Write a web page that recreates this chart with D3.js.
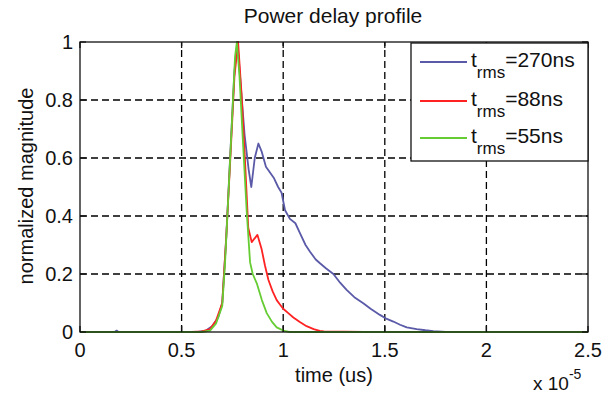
<!DOCTYPE html>
<html>
<head>
<meta charset="utf-8">
<script src="https://cdn.jsdelivr.net/npm/d3@7"></script>
<style>
  body { margin: 0; background: #fff; }
  svg { font-family: "Liberation Sans", Arial, sans-serif; }
</style>
</head>
<body>
<div class="chart-container"></div>
<script>
// time values are in units of 1e-5 s
const xTicks = [0, 0.5, 1, 1.5, 2, 2.5];
const yTicks = [0, 0.2, 0.4, 0.6, 0.8, 1];

const timeA = [0, 0.17, 0.18, 0.19, 0.58, 0.62, 0.65, 0.68, 0.70, 0.72, 0.74, 0.76, 0.775, 0.79, 0.81, 0.83, 0.843, 0.86, 0.878, 0.895, 0.915, 0.935, 0.955, 0.975, 0.992, 1.009, 1.033, 1.06, 1.083, 1.11, 1.132, 1.16, 1.181, 1.21, 1.247, 1.28, 1.312, 1.35, 1.394, 1.43, 1.476, 1.51, 1.542, 1.575, 1.608, 1.657, 1.7, 1.739, 1.8, 2.5];
const magA  = [0, 0, 0.005, 0, 0, 0.005, 0.02, 0.05, 0.10, 0.33, 0.62, 0.90, 1.0, 0.86, 0.68, 0.56, 0.50, 0.60, 0.65, 0.62, 0.57, 0.55, 0.53, 0.50, 0.48, 0.42, 0.39, 0.375, 0.34, 0.30, 0.277, 0.25, 0.237, 0.22, 0.20, 0.17, 0.145, 0.12, 0.099, 0.08, 0.059, 0.045, 0.036, 0.025, 0.016, 0.01, 0.006, 0.003, 0, 0];

const timeB = [0, 0.55, 0.6, 0.64, 0.67, 0.70, 0.72, 0.74, 0.76, 0.778, 0.795, 0.81, 0.828, 0.845, 0.873, 0.894, 0.91, 0.927, 0.948, 0.968, 0.984, 1.0, 1.025, 1.05, 1.08, 1.115, 1.15, 1.18, 1.2, 1.4, 2.5];
const magB  = [0, 0, 0.002, 0.01, 0.04, 0.10, 0.33, 0.60, 0.88, 1.0, 0.82, 0.62, 0.36, 0.31, 0.335, 0.285, 0.23, 0.18, 0.14, 0.11, 0.095, 0.08, 0.065, 0.05, 0.035, 0.02, 0.01, 0.004, 0.002, 0, 0];

const timeC = [0, 0.6, 0.64, 0.67, 0.70, 0.714, 0.73, 0.746, 0.763, 0.772, 0.785, 0.80, 0.82, 0.837, 0.85, 0.87, 0.895, 0.919, 0.945, 0.968, 1.0, 1.03, 2.5];
const magC  = [0, 0, 0.005, 0.03, 0.09, 0.24, 0.47, 0.70, 0.95, 1.0, 0.88, 0.68, 0.42, 0.24, 0.20, 0.168, 0.11, 0.065, 0.035, 0.016, 0.005, 0, 0];

const seriesLabels = ['=270ns', '=88ns', '=55ns'];
const seriesColors = ['#5a5aa8', '#ff2222', '#66cc33'];

const width = 615, height = 394;
const plotLeft = 80, plotRight = 588, plotTop = 42, plotBottom = 332;
const ink = '#111';

const svg = d3.select('.chart-container')
    .append('svg')
    .attr('width', width)
    .attr('height', height);

svg.append('rect')
    .attr('width', width)
    .attr('height', height)
    .style('fill', '#fff');

const x = d3.scaleLinear().domain([0, 2.5]).range([plotLeft, plotRight]);
const y = d3.scaleLinear().domain([0, 1]).range([plotBottom, plotTop]);

// dashed grid
const grid = svg.append('g')
    .style('stroke', '#000')
    .style('stroke-width', 1.3)
    .style('stroke-dasharray', '7,4');

grid.selectAll('.vgrid')
    .data(xTicks.slice(1, -1))
    .enter().append('line')
    .attr('x1', d => x(d)).attr('x2', d => x(d))
    .attr('y1', plotBottom).attr('y2', plotTop);

grid.selectAll('.hgrid')
    .data(yTicks.slice(1, -1))
    .enter().append('line')
    .attr('x1', plotLeft).attr('x2', plotRight)
    .attr('y1', d => y(d)).attr('y2', d => y(d));

// curves
const lineGenerator = d3.line()
    .x(d => x(d[0]))
    .y(d => y(d[1]));

const curves = [
    [timeA, magA],
    [timeB, magB],
    [timeC, magC]
];

curves.forEach((c, i) => {
    const pts = c[0].map((t, j) => [t, c[1][j]]);
    svg.append('path')
        .attr('d', lineGenerator(pts))
        .style('fill', 'none')
        .style('stroke', seriesColors[i])
        .style('stroke-width', 1.8)
        .style('stroke-linejoin', 'round');
});

// axes box
svg.append('rect')
    .attr('x', plotLeft)
    .attr('y', plotTop)
    .attr('width', plotRight - plotLeft)
    .attr('height', plotBottom - plotTop)
    .style('fill', 'none')
    .style('stroke', ink)
    .style('stroke-width', 1.3);

const tickLen = 6;
const ticks = svg.append('g').style('stroke', ink).style('stroke-width', 1.3);
xTicks.forEach(t => {
    ticks.append('line').attr('x1', x(t)).attr('x2', x(t)).attr('y1', plotBottom).attr('y2', plotBottom - tickLen);
    ticks.append('line').attr('x1', x(t)).attr('x2', x(t)).attr('y1', plotTop).attr('y2', plotTop + tickLen);
});
yTicks.forEach(t => {
    ticks.append('line').attr('x1', plotLeft).attr('x2', plotLeft + tickLen).attr('y1', y(t)).attr('y2', y(t));
    ticks.append('line').attr('x1', plotRight).attr('x2', plotRight - tickLen).attr('y1', y(t)).attr('y2', y(t));
});

// tick labels
svg.selectAll('.xlab')
    .data(xTicks)
    .enter().append('text')
    .attr('x', d => x(d))
    .attr('y', plotBottom + 25)
    .attr('text-anchor', 'middle')
    .style('font-size', '20px')
    .style('fill', ink)
    .text(d => d3.format('~g')(d));

svg.selectAll('.ylab')
    .data(yTicks)
    .enter().append('text')
    .attr('x', plotLeft - 7)
    .attr('y', d => y(d))
    .attr('dy', '0.36em')
    .attr('text-anchor', 'end')
    .style('font-size', '20px')
    .style('fill', ink)
    .text(d => d3.format('~g')(d));

// title and axis labels
svg.append('text')
    .attr('x', 333)
    .attr('y', 23)
    .attr('text-anchor', 'middle')
    .style('font-size', '21px')
    .style('fill', ink)
    .text('Power delay profile');

svg.append('text')
    .attr('x', 334)
    .attr('y', 382)
    .attr('text-anchor', 'middle')
    .style('font-size', '20px')
    .style('fill', ink)
    .text('time (us)');

svg.append('text')
    .attr('transform', 'translate(33,186) rotate(-90)')
    .attr('text-anchor', 'middle')
    .style('font-size', '20px')
    .style('fill', ink)
    .text('normalized magnitude');

const expo = svg.append('text')
    .attr('x', 533)
    .attr('y', 390)
    .style('font-size', '19px')
    .style('fill', ink);
expo.append('tspan').text('x 10');
expo.append('tspan').attr('dy', -11).style('font-size', '14px').text('-5');

// legend
const legendLeft = 411, legendTop = 43, legendRight = 588, legendBottom = 161;
const legend = svg.append('g');
legend.append('rect')
    .attr('x', legendLeft)
    .attr('y', legendTop)
    .attr('width', legendRight - legendLeft)
    .attr('height', legendBottom - legendTop)
    .style('fill', '#fff')
    .style('stroke', ink)
    .style('stroke-width', 1.3);

const rowY = [62, 101, 138];
seriesLabels.forEach((label, i) => {
    legend.append('line')
        .attr('x1', 420).attr('x2', 467)
        .attr('y1', rowY[i]).attr('y2', rowY[i])
        .style('stroke', seriesColors[i])
        .style('stroke-width', 1.8);
    const txt = legend.append('text')
        .attr('x', 471)
        .attr('y', rowY[i] + 5)
        .style('font-size', '21px')
        .style('fill', ink);
    txt.append('tspan').text('t');
    txt.append('tspan').attr('dy', 11).style('font-size', '17px').text('rms');
    txt.append('tspan').attr('dy', -11).text(label);
});
</script>
</body>
</html>
